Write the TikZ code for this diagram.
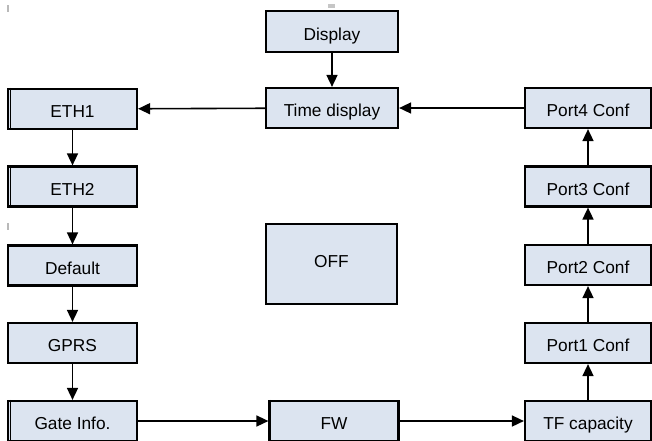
\documentclass[tikz,border=0pt]{standalone}
\usepackage{fontspec}
\setmainfont{Liberation Sans}
\usetikzlibrary{arrows.meta}
\definecolor{boxfill}{HTML}{DCE4F0}
\tikzset{
  box/.style={draw=black, line width=2.2pt, fill=boxfill, minimum width=129pt, minimum height=40pt, inner sep=0pt, text height=17.5pt, text depth=0pt, font=\fontsize{17.3}{20}\selectfont},
  conn/.style={line width=1.6pt, -{Triangle[length=12pt,width=11pt]}},
  dbl/.style={line width=1.6pt}
}
\begin{document}
\begin{tikzpicture}[x=1pt,y=-1pt]
\clip (0,0) rectangle (652,440);
\fill[white] (0,0) rectangle (652,440);
% small gray marks
\fill[gray!55] (6.5,5) rectangle (8.5,12);
\fill[gray!45] (328,4) rectangle (335,8);
\fill[gray!55] (6.5,223) rectangle (8.5,230);
% middle column
\node[box, minimum width=132pt, minimum height=41pt] (disp) at (332,31.5) {Display};
\node[box, minimum width=132pt] (time) at (332,108) {Time display};
\node[box, minimum width=131pt, minimum height=80pt] (off) at (331.5,264) {\raisebox{5.5pt}{OFF}};
\node[box] (fw) at (334,421) {FW};
% left column
\node[box] (eth1) at (72.5,109) {ETH1};
\node[box] (eth2) at (72.5,186.5) {ETH2};
\node[box] (def) at (72.5,265.5) {Default};
\node[box] (gprs) at (72.5,343) {GPRS};
\node[box] (gate) at (72.5,421) {Gate Info.};
% right column
\node[box, minimum width=126pt] (p4) at (588,108) {Port4 Conf};
\node[box, minimum width=126pt] (p3) at (588,186.5) {Port3 Conf};
\node[box, minimum width=126pt] (p2) at (588,265) {Port2 Conf};
\node[box, minimum width=126pt] (p1) at (588,343) {Port1 Conf};
\node[box, minimum width=126pt] (tf) at (588,421) {TF capacity};
% double left edges
\draw[dbl] ([xshift=3.5pt]eth1.north west) -- ([xshift=3.5pt]eth1.south west);
\draw[dbl] ([xshift=3.5pt]eth2.north west) -- ([xshift=3.5pt]eth2.south west);
\draw[dbl] ([xshift=3.5pt]gate.north west) -- ([xshift=3.5pt]gate.south west);
\draw[line width=1.2pt] ([xshift=1.8pt]fw.north west) -- ([xshift=1.8pt]fw.south west);
% connectors
\draw[conn] (disp) -- (time);
\draw[conn] (time) -- (eth1);
\draw[conn] (p4) -- (time);
\draw[conn] (eth1) -- (eth2);
\draw[conn] (eth2) -- (def);
\draw[conn] (def) -- (gprs);
\draw[conn] (gprs) -- (gate);
\draw[conn] (gate) -- (gate -| fw.west);
\draw[conn] (fw) -- (fw -| tf.west);
\draw[conn] (tf) -- (p1);
\draw[conn] (p1) -- (p2);
\draw[conn] (p2) -- (p3);
\draw[conn] (p3) -- (p4);
\end{tikzpicture}
\end{document}
